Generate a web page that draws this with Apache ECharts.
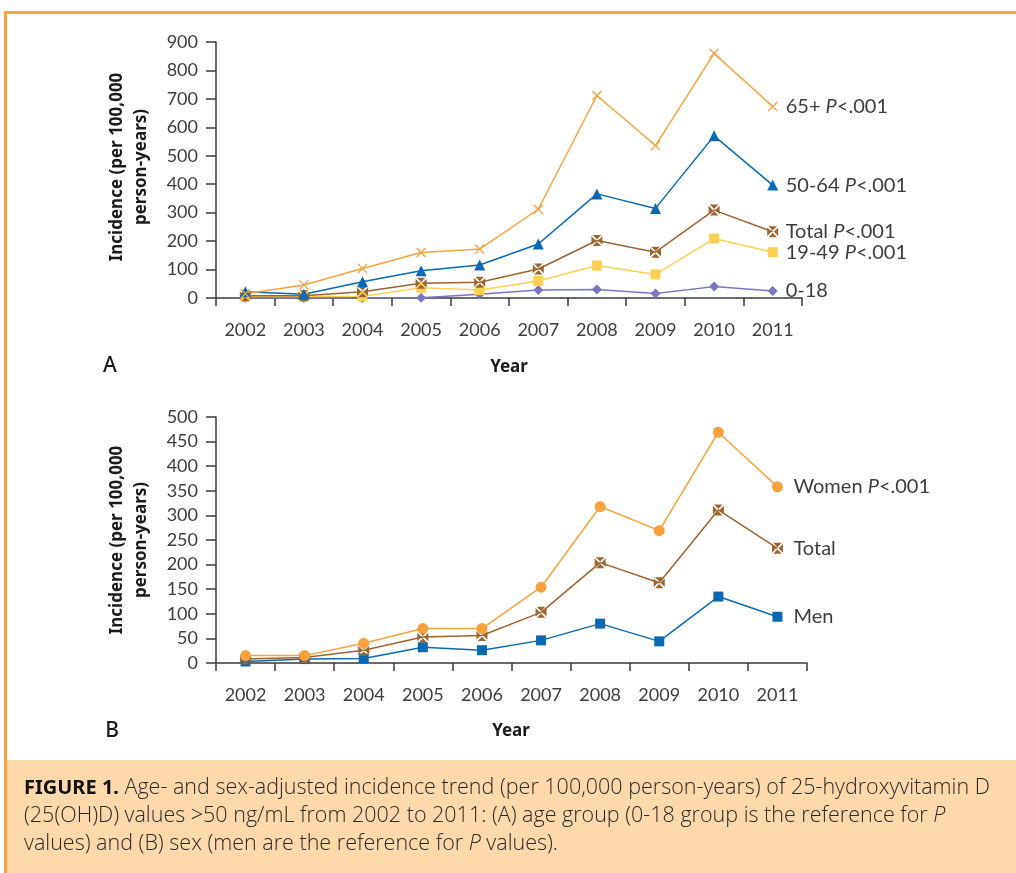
<!DOCTYPE html>
<html>
<head>
<meta charset="utf-8">
<script src="https://cdn.jsdelivr.net/npm/echarts@6/dist/echarts.min.js"></script>
<style>
html,body{margin:0;padding:0;background:#fff;}
#c{width:1016px;height:873px;}
</style>
</head>
<body>
<div id="c"></div>
<script>
// ---- Data ----
const years = ['2002','2003','2004','2005','2006','2007','2008','2009','2010','2011'];

// Panel A: age groups
const age65plus = [15, 46, 104, 160, 172, 312, 712, 536, 860, 673];
const age50to64 = [22, 13, 57, 96, 116, 190, 366, 315, 570, 397];
const ageTotal  = [8, 8, 22, 52, 55, 102, 202, 161, 309, 233];
const age19to49 = [5, 5, 6, 36, 28, 60, 114, 83, 209, 161];
const age0to18  = [0, 0, 0, 1, 13, 28, 30, 16, 40, 25];

// Panel B: sex
const women    = [15, 15, 40, 70, 70, 154, 318, 269, 469, 358];
const sexTotal = [8, 11, 26, 53, 56, 103, 204, 163, 311, 233];
const men      = [3, 8, 9, 32, 26, 46, 80, 44, 135, 94];

const yTicksA = {min: 0, max: 900, interval: 100};
const yTicksB = {min: 0, max: 500, interval: 50};

// ---- Styling ----
const FONT = 'Lato, "Open Sans", sans-serif';
const TXT = '#3d3d3d';
const AX = '#3a3a3a';
const C_ORANGE = '#f7a23e';
const C_BLUE = '#0b69b4';
const C_BROWN = '#9b6431';
const C_YELLOW = '#fdd055';
const C_PURPLE = '#7a77c0';

const SYM_X = 'path://M0,0.9L0.9,0L5,4.1L9.1,0L10,0.9L5.9,5L10,9.1L9.1,10L5,5.9L0.9,10L0,9.1L4.1,5Z';
const SYM_BOXX = 'path://M1.1,0L8.9,0L5,3.9Z M10,1.1L10,8.9L6.1,5Z M1.1,10L8.9,10L5,6.1Z M0,1.1L0,8.9L3.9,5Z';

function xAxisCfg(gi){
  return {
    type: 'category', gridIndex: gi, data: years, boundaryGap: true,
    axisLine: {lineStyle: {color: AX, width: 1.5}},
    axisTick: {show: true, length: 8, lineStyle: {color: AX, width: 1.5}},
    axisLabel: {color: TXT, fontFamily: FONT, fontSize: 18, margin: 23},
    splitLine: {show: false}
  };
}
function yAxisCfg(gi, t){
  return {
    type: 'value', gridIndex: gi, min: t.min, max: t.max, interval: t.interval,
    axisLine: {show: true, lineStyle: {color: AX, width: 1.5}},
    axisTick: {show: true, length: 10, lineStyle: {color: AX, width: 1.5}},
    axisLabel: {color: TXT, fontFamily: FONT, fontSize: 18, margin: 18},
    splitLine: {show: false}
  };
}
function lbl(text, dist){
  return {
    show: true, distance: dist, color: TXT, fontFamily: FONT, fontSize: 20,
    formatter: function(){ return text; },
    rich: {
      n: {color: TXT, fontFamily: FONT, fontSize: 20},
      i: {color: TXT, fontFamily: FONT, fontSize: 20, fontStyle: 'italic'}
    }
  };
}
function ser(name, gi, data, color, symbol, size, label, dist){
  return {
    name: name, type: 'line', xAxisIndex: gi, yAxisIndex: gi, data: data,
    symbol: symbol, symbolSize: size, showAllSymbol: true,
    lineStyle: {color: color, width: 1.5},
    itemStyle: {color: color},
    endLabel: lbl(label, dist),
    emphasis: {disabled: true}
  };
}

const chart = echarts.init(document.getElementById('c'), null, {renderer: 'canvas'});
chart.setOption({
  animation: false,
  backgroundColor: '#ffffff',
  grid: [
    {left: 216, top: 42, width: 586, height: 256},
    {left: 216, top: 417, width: 591, height: 246}
  ],
  xAxis: [xAxisCfg(0), xAxisCfg(1)],
  yAxis: [yAxisCfg(0, yTicksA), yAxisCfg(1, yTicksB)],
  series: [
    ser('0-18', 0, age0to18, C_PURPLE, 'diamond', 10, '{n|0-18}', 13),
    ser('19-49', 0, age19to49, C_YELLOW, 'rect', 10, '{n|19-49 }{i|P}{n|<.001}', 13),
    ser('Total', 0, ageTotal, C_BROWN, SYM_BOXX, 11, '{n|Total }{i|P}{n|<.001}', 13),
    ser('50-64', 0, age50to64, C_BLUE, 'triangle', 11, '{n|50-64 }{i|P}{n|<.001}', 13),
    ser('65+', 0, age65plus, C_ORANGE, SYM_X, 10, '{n|65+ }{i|P}{n|<.001}', 13),
    ser('Men', 1, men, C_BLUE, 'rect', 10, '{n|Men}', 16),
    ser('Total', 1, sexTotal, C_BROWN, SYM_BOXX, 11, '{n|Total}', 16),
    ser('Women', 1, women, C_ORANGE, 'circle', 11, '{n|Women }{i|P}{n|<.001}', 16)
  ],
  graphic: [
    // frame
    {type: 'rect', shape: {x: 4, y: 11, width: 1012, height: 3}, style: {fill: '#f7a33f'}, z: 10},
    {type: 'rect', shape: {x: 4, y: 11, width: 3, height: 862}, style: {fill: '#f7a33f'}, z: 10},
    // caption background
    {type: 'rect', shape: {x: 7, y: 760, width: 1009, height: 113}, style: {fill: '#fdd8a9'}, z: 1},
    // y-axis titles
    {type: 'text', x: 129, y: 167, rotation: Math.PI/2, z: 5,
      style: {text: 'Incidence (per 100,000\nperson-years)', fill: '#1a1a1a', font: 'bold 17px "Noto Sans", sans-serif',
        align: 'center', verticalAlign: 'middle', lineHeight: 24}},
    {type: 'text', x: 129, y: 540, rotation: Math.PI/2, z: 5,
      style: {text: 'Incidence (per 100,000\nperson-years)', fill: '#1a1a1a', font: 'bold 17px "Noto Sans", sans-serif',
        align: 'center', verticalAlign: 'middle', lineHeight: 24}},
    // x-axis titles
    {type: 'text', x: 509, y: 367, z: 5, style: {text: 'Year', fill: '#1a1a1a', font: 'bold 17px "Noto Sans", sans-serif', align: 'center', verticalAlign: 'middle'}},
    {type: 'text', x: 511, y: 731, z: 5, style: {text: 'Year', fill: '#1a1a1a', font: 'bold 17px "Noto Sans", sans-serif', align: 'center', verticalAlign: 'middle'}},
    // panel letters
    {type: 'text', x: 110, y: 366, z: 5, style: {text: 'A', fill: '#1a1a1a', font: '500 21px "Noto Sans", sans-serif', align: 'center', verticalAlign: 'middle'}},
    {type: 'text', x: 112, y: 731, z: 5, style: {text: 'B', fill: '#1a1a1a', font: '500 21px "Noto Sans", sans-serif', align: 'center', verticalAlign: 'middle'}},
    // caption
    {type: 'text', x: 24, y: 774, z: 5,
      style: {
        text: '{b|FIGURE 1.} Age- and sex-adjusted incidence trend (per 100,000 person-years) of 25-hydroxyvitamin D\n' +
              '(25(OH)D) values >50 ng/mL from 2002 to 2011: (A) age group (0-18 group is the reference for {i|P}\n' +
              'values) and (B) sex (men are the reference for {i|P} values).',
        fill: '#2a2a2a', font: '300 21.5px "Open Sans", sans-serif', lineHeight: 28,
        rich: {
          b: {fontFamily: '"Noto Sans", sans-serif', fontWeight: 'bold', fontSize: 20, fill: '#111', lineHeight: 28},
          i: {fontFamily: '"Open Sans", sans-serif', fontStyle: 'italic', fontWeight: 300, fontSize: 21.5, fill: '#2a2a2a', lineHeight: 28}
        }
      }}
  ]
});
</script>
</body>
</html>
